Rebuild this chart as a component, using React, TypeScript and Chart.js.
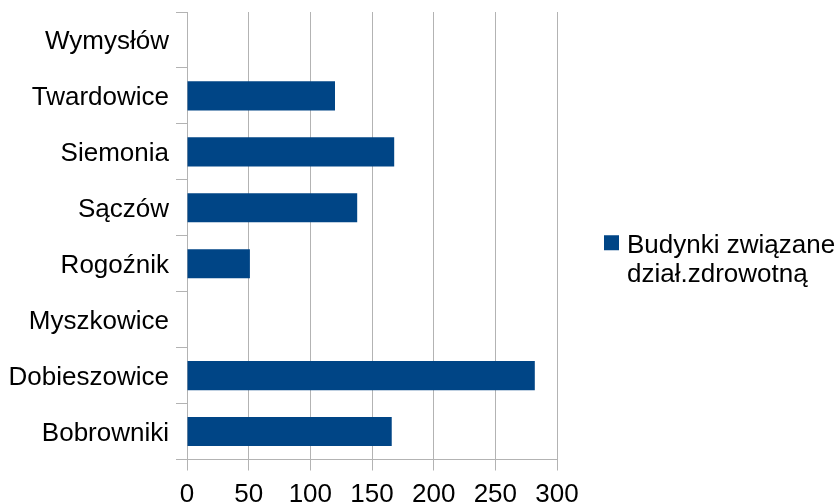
import React, { useEffect, useRef } from "react";
import { Chart, registerables } from "chart.js";

Chart.register(...registerables);

const categories = [
  "Bobrowniki",
  "Dobieszowice",
  "Myszkowice",
  "Rogoźnik",
  "Sączów",
  "Siemonia",
  "Twardowice",
  "Wymysłów",
];
const values = [166, 282, 0, 51, 138, 168, 120, 0];
const seriesName = "Budynki związane z dział.zdrowotną";
const legendLines = ["Budynki związane", "dział.zdrowotną"];
const xTickMin = 0;
const xTickMax = 300;
const xTickStep = 50;

const FONT = "'Liberation Sans', Arial, sans-serif";
const BAR = "#004586";
const GRID = "#b3b3b3";
const FS = 26;

const legendPlugin = {
  id: "sideLegend",
  afterDraw(chart: any) {
    const ctx = chart.ctx;
    const area = chart.chartArea;
    const midY = (area.top + area.bottom) / 2;
    const x0 = area.right + 47;
    const boxTop = midY - 0.5;
    ctx.save();
    ctx.fillStyle = BAR;
    ctx.fillRect(x0, boxTop, 15, 15);
    ctx.fillStyle = "#000";
    ctx.font = `${FS}px ${FONT}`;
    ctx.textAlign = "left";
    ctx.textBaseline = "alphabetic";
    legendLines.forEach((line, i) => {
      ctx.fillText(line, x0 + 23, boxTop + 18 + i * 29);
    });
    ctx.restore();
  },
};

export default function App() {
  const ref = useRef<HTMLCanvasElement>(null);
  useEffect(() => {
    if (!ref.current) return;
    const chart = new Chart(ref.current, {
      type: "bar",
      data: {
        labels: categories,
        datasets: [
          {
            label: seriesName,
            data: values,
            backgroundColor: BAR,
            borderWidth: 0,
            categoryPercentage: 0.52,
            barPercentage: 1,
          },
        ],
      },
      options: {
        indexAxis: "y",
        animation: false,
        responsive: true,
        maintainAspectRatio: false,
        layout: { padding: { top: 12, right: 283, bottom: 0, left: 0 } },
        plugins: {
          legend: { display: false },
          tooltip: { enabled: false },
        },
        scales: {
          x: {
            min: xTickMin,
            max: xTickMax,
            ticks: {
              stepSize: xTickStep,
              color: "#000",
              font: { family: FONT, size: FS },
              padding: 9,
              maxRotation: 0,
            },
            grid: {
              color: GRID,
              lineWidth: 1,
              drawTicks: true,
              tickLength: 11,
            },
            border: { display: true, color: GRID },
            afterFit: (scale: any) => {
              scale.height = 44.5;
              scale.paddingLeft = 0;
              scale.paddingRight = 0;
            },
          },
          y: {
            reverse: true,
            ticks: {
              color: "#000",
              font: { family: FONT, size: FS },
              padding: 7,
              labelOffset: 2,
            },
            grid: {
              color: GRID,
              lineWidth: 1,
              drawOnChartArea: false,
              drawTicks: true,
              tickLength: 11,
              offset: true,
            },
            border: { display: true, color: GRID },
            afterFit: (scale: any) => {
              scale.width = 187;
              scale.paddingTop = 0;
              scale.paddingBottom = 0;
            },
          },
        },
      },
      plugins: [legendPlugin],
    });
    return () => chart.destroy();
  }, []);
  return (
    <div style={{ position: "absolute", left: 0, top: 0, width: 840, height: 504 }}>
      <canvas ref={ref} />
    </div>
  );
}
